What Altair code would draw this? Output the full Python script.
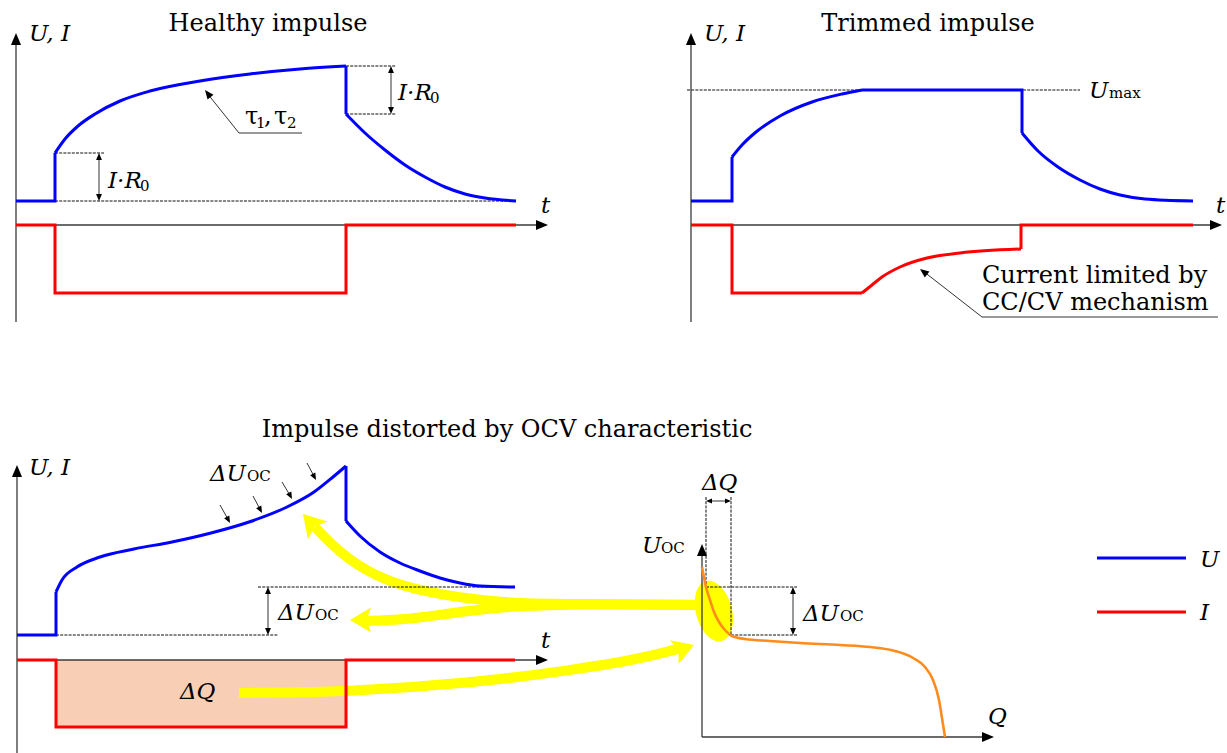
import altair as alt
import pandas as pd

W, H = 1227, 753
FONT = "DejaVu Serif"

# ---------------- curves (diagram coordinates, pixels) ----------------
# Panel 1: healthy impulse
P1_U_STEP = [(16, 201), (55, 201), (55, 153)]
P1_U_RISE = [(55, 153), (65, 139), (78, 126), (95, 114), (120, 101), (150, 91), (200, 81),
             (250, 74), (300, 69), (346, 66)]
P1_U_DROP = [(346, 66), (346, 114)]
P1_U_DECAY = [(346, 114), (365, 133), (385, 150), (405, 165), (425, 177), (445, 187),
              (465, 194), (485, 198), (516, 201)]
P1_I = [(16, 225), (55, 225), (55, 293), (346, 293), (346, 225), (516, 225)]

# Panel 2: trimmed impulse
P2_U_STEP = [(691, 201), (732, 201), (732, 157)]
P2_U_RISE = [(732, 157), (742, 145), (756, 132), (780, 116), (812, 102), (842, 94), (862, 90)]
P2_U_FLAT = [(862, 90), (1022, 90), (1022, 133)]
P2_U_DECAY = [(1022, 133), (1038, 151), (1058, 167), (1080, 180), (1100, 189), (1120, 195),
              (1145, 199), (1193, 201)]
P2_I_A = [(691, 225), (732, 225), (732, 293), (862, 293)]
P2_I_CURVE = [(862, 293), (872, 285), (882, 277), (900, 267), (927, 258), (960, 253), (1021, 249)]
P2_I_B = [(1021, 249), (1021, 225), (1193, 225)]

# Panel 3: impulse distorted by OCV
P3_U_STEP = [(17, 635), (56, 635), (56, 592)]
P3_U_RISE = [(56, 592), (62, 580), (77, 567), (100, 557), (134, 549), (172, 542), (211, 533),
             (249, 522), (287, 507), (314, 492), (333, 477), (346, 466)]
P3_U_DROP = [(346, 466), (346, 521)]
P3_U_DECAY = [(346, 521), (360, 536), (380, 552), (400, 563), (420, 571), (440, 578),
              (460, 583), (480, 586), (515, 587)]
P3_I = [(17, 660), (56, 660), (56, 727), (346, 727), (346, 660), (515, 660)]
P3_Q_AREA = [(56, 660, 346, 727)]

# OCV characteristic
OCV = [(702, 567), (706, 587), (710, 600), (714, 612), (719, 622), (725, 630), (732, 636),
       (745, 639), (770, 641), (800, 643), (840, 645), (870, 647), (895, 651), (913, 658),
       (925, 667), (933, 680), (939, 700), (942, 718), (945, 737)]

# ---------------- construction lines ----------------
AXES = [
    [(16, 322), (16, 42)], [(16, 225), (540, 225)],
    [(691, 322), (691, 42)], [(691, 225), (1214, 225)],
    [(17, 753), (17, 474)], [(17, 660), (540, 660)],
    [(702, 737), (702, 553)], [(702, 737), (986, 737)],
]
DASHED = [
    [(55, 201), (516, 201)], [(55, 153), (104, 153)],
    [(346, 66), (396, 66)], [(346, 114), (396, 114)],
    [(687, 90), (1080, 90)],
    [(258, 587), (515, 587)], [(56, 635), (278, 635)],
    [(706, 497), (706, 587)], [(731, 497), (731, 635)],
    [(706, 587), (797, 587)], [(731, 635), (797, 635)],
]
THIN = [
    [(99, 158), (99, 196)], [(391, 71), (391, 109)],
    [(268, 592), (268, 630)], [(793, 592), (793, 630)],
    [(710, 501), (727, 501)],
    [(207, 93), (239, 133), (302, 133)],
    [(923, 271), (982, 317), (1218, 317)],
    [(220, 505), (229, 521)], [(253, 496), (261, 511)],
    [(282, 482), (291, 497)], [(307, 463), (315, 478)],
]
# arrow heads: x, y (tip), angle (deg, 0 = up), length (px)
HEADS = [
    (16, 33, 0, 12), (691, 33, 0, 12), (17, 465, 0, 12), (702, 544, 0, 12),
    (548, 225, 90, 12), (1222, 225, 90, 12), (548, 660, 90, 12), (994, 737, 90, 12),
    (99, 153, 0, 7), (99, 201, 180, 7), (391, 66, 0, 7), (391, 114, 180, 7),
    (268, 587, 0, 7), (268, 635, 180, 7), (793, 587, 0, 7), (793, 635, 180, 7),
    (706, 501, 270, 6), (731, 501, 90, 6),
    (205, 90, 322, 9), (920, 269, 308, 9),
    (230, 523, 152, 7), (262, 513, 152, 7), (292, 499, 152, 7), (316, 480, 152, 7),
]

# yellow arrows
Y_UPPER = [(698, 605), (600, 604), (517, 604), (460, 598), (402, 587), (364, 570), (337, 550), (315, 527)]
Y_MIDDLE = [(698, 605), (600, 604), (500, 606), (440, 615), (400, 620), (366, 621)]
Y_LOWER = [(239, 693), (347, 692), (473, 683), (573, 670), (640, 659), (681, 648)]
Y_HEADS = [(303, 514, 318, 22), (350, 620, 270, 21), (694, 645, 70, 21)]
Y_ELLIPSE = [(714, 611)]

LEGEND = [("U", "#0000ff", 1097, 1186, 558), ("I", "#ff0000", 1097, 1186, 612)]

# ---------------- texts ----------------
TITLES = [("Healthy impulse", 268, 31), ("Trimmed impulse", 928, 31),
          ("Impulse distorted by OCV characteristic", 507, 437)]
T_ITALIC = [
    ("U, I", 29, 41), ("t", 541, 213), ("I·R", 108, 188), ("I·R", 398, 100),
    ("U, I", 704, 41), ("t", 1216, 213), ("U", 1089, 98),
    ("U, I", 29, 475), ("t", 541, 648), ("ΔU", 210, 481), ("ΔU", 278, 620), ("ΔQ", 180, 699),
    ("U", 642, 553), ("Q", 988, 724), ("ΔQ", 702, 490), ("ΔU", 803, 621),
    ("U", 1200, 567), ("I", 1200, 620),
]
T_NORMAL = [("Current limited by", 982, 283), ("CC/CV mechanism", 982, 310),
            ("τ", 245, 124), (",", 264, 124), ("τ", 274, 124)]
T_SUB = [("0", 140, 191), ("0", 430, 103), ("max", 1109, 98),
         ("OC", 247, 481), ("OC", 315, 620), ("OC", 661, 553), ("OC", 840, 621),
         ("1", 256, 128), ("2", 287, 128)]

# ---------------- build ----------------
X = alt.X("x:Q", scale=alt.Scale(domain=[0, W], nice=False, zero=False), axis=None)
Y = alt.Y("y:Q", scale=alt.Scale(domain=[0, H], nice=False, zero=False, reverse=True), axis=None)


def lines_df(groups):
    rows = []
    for g, pts in enumerate(groups):
        for i, (x, y) in enumerate(pts):
            rows.append({"g": g, "i": i, "x": x, "y": y})
    return pd.DataFrame(rows)


def line_layer(groups, color, width, interp="linear", dash=None, cap="butt"):
    kw = dict(color=color, strokeWidth=width, interpolate=interp, strokeCap=cap, strokeJoin="miter")
    if dash is not None:
        kw["strokeDash"] = dash
    return alt.Chart(lines_df(groups)).mark_line(**kw).encode(
        x=X, y=Y, detail="g:N", order="i:Q")


HEAD_PATH = "M0,0 L-0.42,1 L0.42,1 Z"
YHEAD_PATH = "M0,0 L-0.6,1 L0,0.78 L0.6,1 Z"
ELLIPSE_PATH = "M0,-1 A0.58,1 0 1,1 0,1 A0.58,1 0 1,1 0,-1 Z"


def heads_layer(heads, path, color):
    df = pd.DataFrame([{"x": x, "y": y, "a": a, "s": 4 * L * L} for x, y, a, L in heads])
    return alt.Chart(df).mark_point(shape=path, filled=True, color=color, opacity=1,
                                    strokeWidth=0).encode(
        x=X, y=Y, angle=alt.Angle("a:Q", scale=None), size=alt.Size("s:Q", scale=None))


def text_layer(items, size, style="normal", align="left"):
    df = pd.DataFrame([{"t": t, "x": x, "y": y} for t, x, y in items])
    return alt.Chart(df).mark_text(font=FONT, fontSize=size, fontStyle=style, align=align,
                                   baseline="alphabetic", color="black").encode(
        x=X, y=Y, text="t:N")


area_df = pd.DataFrame([{"x": a, "y": b, "x2": c, "y2": d} for a, b, c, d in P3_Q_AREA])
area = alt.Chart(area_df).mark_rect(color="#f8cfb5").encode(
    x=X, y=Y, x2=alt.X2("x2:Q"), y2=alt.Y2("y2:Q"))

ellipse = alt.Chart(pd.DataFrame([{"x": x, "y": y} for x, y in Y_ELLIPSE])).mark_point(
    shape=ELLIPSE_PATH, filled=True, color="#ffff00", opacity=1, strokeWidth=0,
    size=3844, angle=345).encode(x=X, y=Y)

yellow = line_layer([Y_UPPER, Y_MIDDLE, Y_LOWER], "#ffff00", 10, "basis")
yheads = heads_layer(Y_HEADS, YHEAD_PATH, "#ffff00")

dashed = line_layer(DASHED, "#111111", 1, dash=[3, 1.2])
axes = line_layer(AXES, "#3a3a3a", 1.3)
thin = line_layer(THIN, "#333333", 1)
heads = heads_layer(HEADS, HEAD_PATH, "black")

ocv = line_layer([OCV], "#ff8c1a", 2.6, "monotone")
blue_lin = line_layer([P1_U_STEP, P1_U_DROP, P2_U_STEP, P2_U_FLAT, P3_U_STEP, P3_U_DROP],
                      "#0000ff", 3)
blue_smooth = line_layer([P1_U_RISE, P1_U_DECAY, P2_U_RISE, P2_U_DECAY, P3_U_RISE, P3_U_DECAY],
                         "#0000ff", 3, "monotone")
red_lin = line_layer([P1_I, P2_I_A, P2_I_B, P3_I], "#ff0000", 3)
red_smooth = line_layer([P2_I_CURVE], "#ff0000", 3, "monotone")

leg_df = pd.DataFrame([{"k": k, "c": c, "x": a, "x2": b, "y": y} for k, c, a, b, y in LEGEND])
legend = alt.Chart(leg_df).mark_rule(strokeWidth=3).encode(
    x=X, x2=alt.X2("x2:Q"), y=Y, color=alt.Color("c:N", scale=None))

titles = text_layer(TITLES, 24, align="center")
t_it = text_layer(T_ITALIC, 23, style="italic")
t_n = text_layer(T_NORMAL, 24)
t_sub = text_layer(T_SUB, 15)

chart = alt.layer(
    area, ellipse, yellow, yheads, dashed, axes, thin, heads, ocv,
    blue_lin, blue_smooth, red_lin, red_smooth, legend,
    titles, t_it, t_n, t_sub,
).properties(
    width=W, height=H, padding=0, autosize=alt.AutoSizeParams(type="none"),
    background="white",
).configure_view(strokeWidth=0)

chart.save("out.html", embed_options={"renderer": "svg", "actions": False})
